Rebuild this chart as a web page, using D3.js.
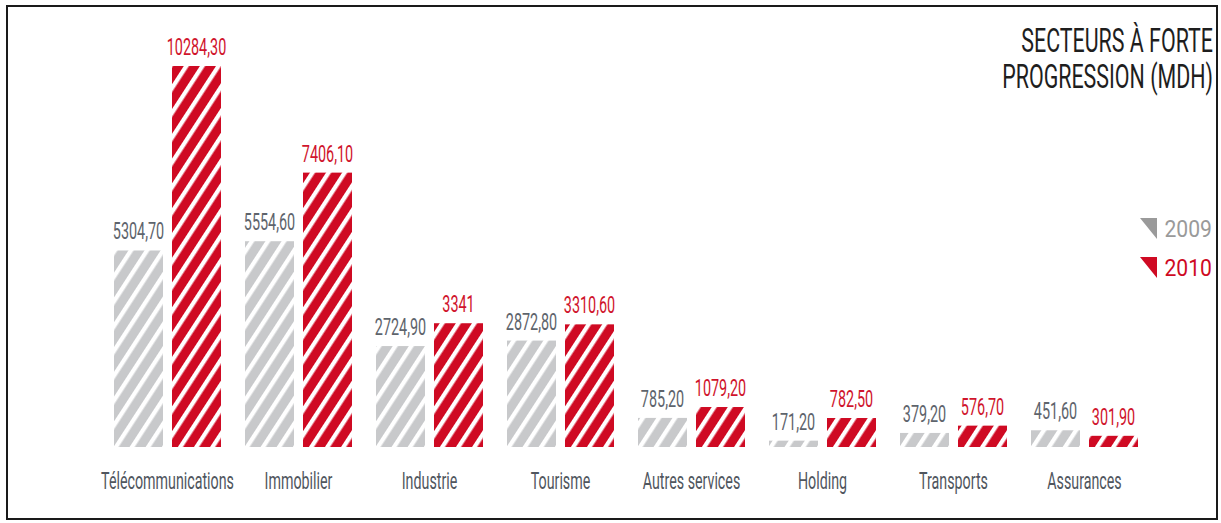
<!DOCTYPE html>
<html>
<head>
<meta charset="utf-8">
<script src="https://cdn.jsdelivr.net/npm/d3@7"></script>
<style>
  html, body { margin: 0; padding: 0; background: #fff; }
  svg { display: block; }
  text { font-family: Roboto, "Liberation Sans", sans-serif; }
</style>
</head>
<body>
<svg id="chart" width="1221" height="523"></svg>
<script>
// Sector totals in MDH, 2009 vs 2010
const categories = ["Télécommunications", "Immobilier", "Industrie", "Tourisme",
                    "Autres services", "Holding", "Transports", "Assurances"];
const years = ["2009", "2010"];
const values2009 = [5304.70, 5554.60, 2724.90, 2872.80, 785.20, 171.20, 379.20, 451.60];
const values2010 = [10284.30, 7406.10, 3341, 3310.60, 1079.20, 782.50, 576.70, 301.90];
const labels2009 = ["5304,70", "5554,60", "2724,90", "2872,80", "785,20", "171,20", "379,20", "451,60"];
const labels2010 = ["10284,30", "7406,10", "3341", "3310,60", "1079,20", "782,50", "576,70", "301,90"];
const titleLines = ["SECTEURS À FORTE", "PROGRESSION (MDH)"];

const colors = { "2009": "#c8c9cb", "2010": "#cf0a23" };
const labelColors = { "2009": "#5e646c", "2010": "#d0142c" };
const legendColors = { "2009": "#9a9a9a", "2010": "#cf0a23" };
const SX = 0.62; // horizontal squeeze for a condensed look

const svg = d3.select("#chart");

// frame
svg.append("rect")
  .attr("x", 7).attr("y", 6).attr("width", 1210).attr("height", 513)
  .attr("fill", "none").attr("stroke", "#1a1a1a").attr("stroke-width", 2);

// diagonal stripe patterns
const defs = svg.append("defs");
years.forEach(y => {
  const p = defs.append("pattern")
    .attr("id", "hatch" + y)
    .attr("patternUnits", "userSpaceOnUse")
    .attr("width", 13.5).attr("height", 13.5)
    .attr("patternTransform", "rotate(33)");
  p.append("rect").attr("width", 13.5).attr("height", 13.5).attr("fill", colors[y]);
  p.append("rect").attr("x", 0).attr("width", 4.3).attr("height", 13.5).attr("fill", "#fff");
});

const x0 = d3.scaleBand().domain(categories).range([102, 1150])
  .paddingInner(0.1832).paddingOuter(0.0916).align(0.5);
const x1 = d3.scaleBand().domain(years).range([0, x0.bandwidth()]).paddingInner(0.155).paddingOuter(0);
const y = d3.scaleLinear().domain([0, 10500]).range([447, 447 - 10500 * 381 / 10284.3]);

const rows = categories.map((c, i) => ({
  cat: c,
  items: [
    { year: "2009", value: values2009[i], label: labels2009[i] },
    { year: "2010", value: values2010[i], label: labels2010[i] }
  ]
}));

const g = svg.selectAll("g.grp").data(rows).join("g")
  .attr("class", "grp")
  .attr("transform", d => `translate(${x0(d.cat)},0)`);

g.selectAll("rect").data(d => d.items).join("rect")
  .attr("x", d => x1(d.year))
  .attr("y", d => y(d.value))
  .attr("width", x1.bandwidth())
  .attr("height", d => y(0) - y(d.value))
  .attr("fill", d => `url(#hatch${d.year})`);

g.selectAll("text.val").data(d => d.items).join("text")
  .attr("class", "val")
  .attr("transform", d => `translate(${x1(d.year) + x1.bandwidth() / 2},${y(d.value) - 11}) scale(0.6,1)`)
  .attr("text-anchor", "middle")
  .attr("font-size", 24)
  .attr("fill", d => labelColors[d.year])
  .text(d => d.label);

// category axis labels
svg.append("g").selectAll("text").data(categories).join("text")
  .attr("transform", d => `translate(${x0(d) + x0.bandwidth() / 2},489) scale(${SX},1)`)
  .attr("text-anchor", "middle")
  .attr("font-size", 23)
  .attr("fill", "#50565e")
  .text(d => d);

// title
svg.append("g").selectAll("text").data(titleLines).join("text")
  .attr("transform", (d, i) => `translate(1213,${52 + i * 36}) scale(0.63,1)`)
  .attr("text-anchor", "end")
  .attr("font-size", 34)
  .attr("fill", "#1e1e1e")
  .text(d => d);

// legend
const lg = svg.append("g").selectAll("g").data(years).join("g")
  .attr("transform", (d, i) => `translate(1140,${218 + i * 39})`);
lg.append("path")
  .attr("d", "M0,0 L17,0 L17,21 Z")
  .attr("fill", d => legendColors[d]);
lg.append("text")
  .attr("transform", "translate(72,19) scale(0.92,1)")
  .attr("text-anchor", "end")
  .attr("font-size", 23)
  .attr("fill", d => legendColors[d])
  .text(d => d);
</script>
</body>
</html>
